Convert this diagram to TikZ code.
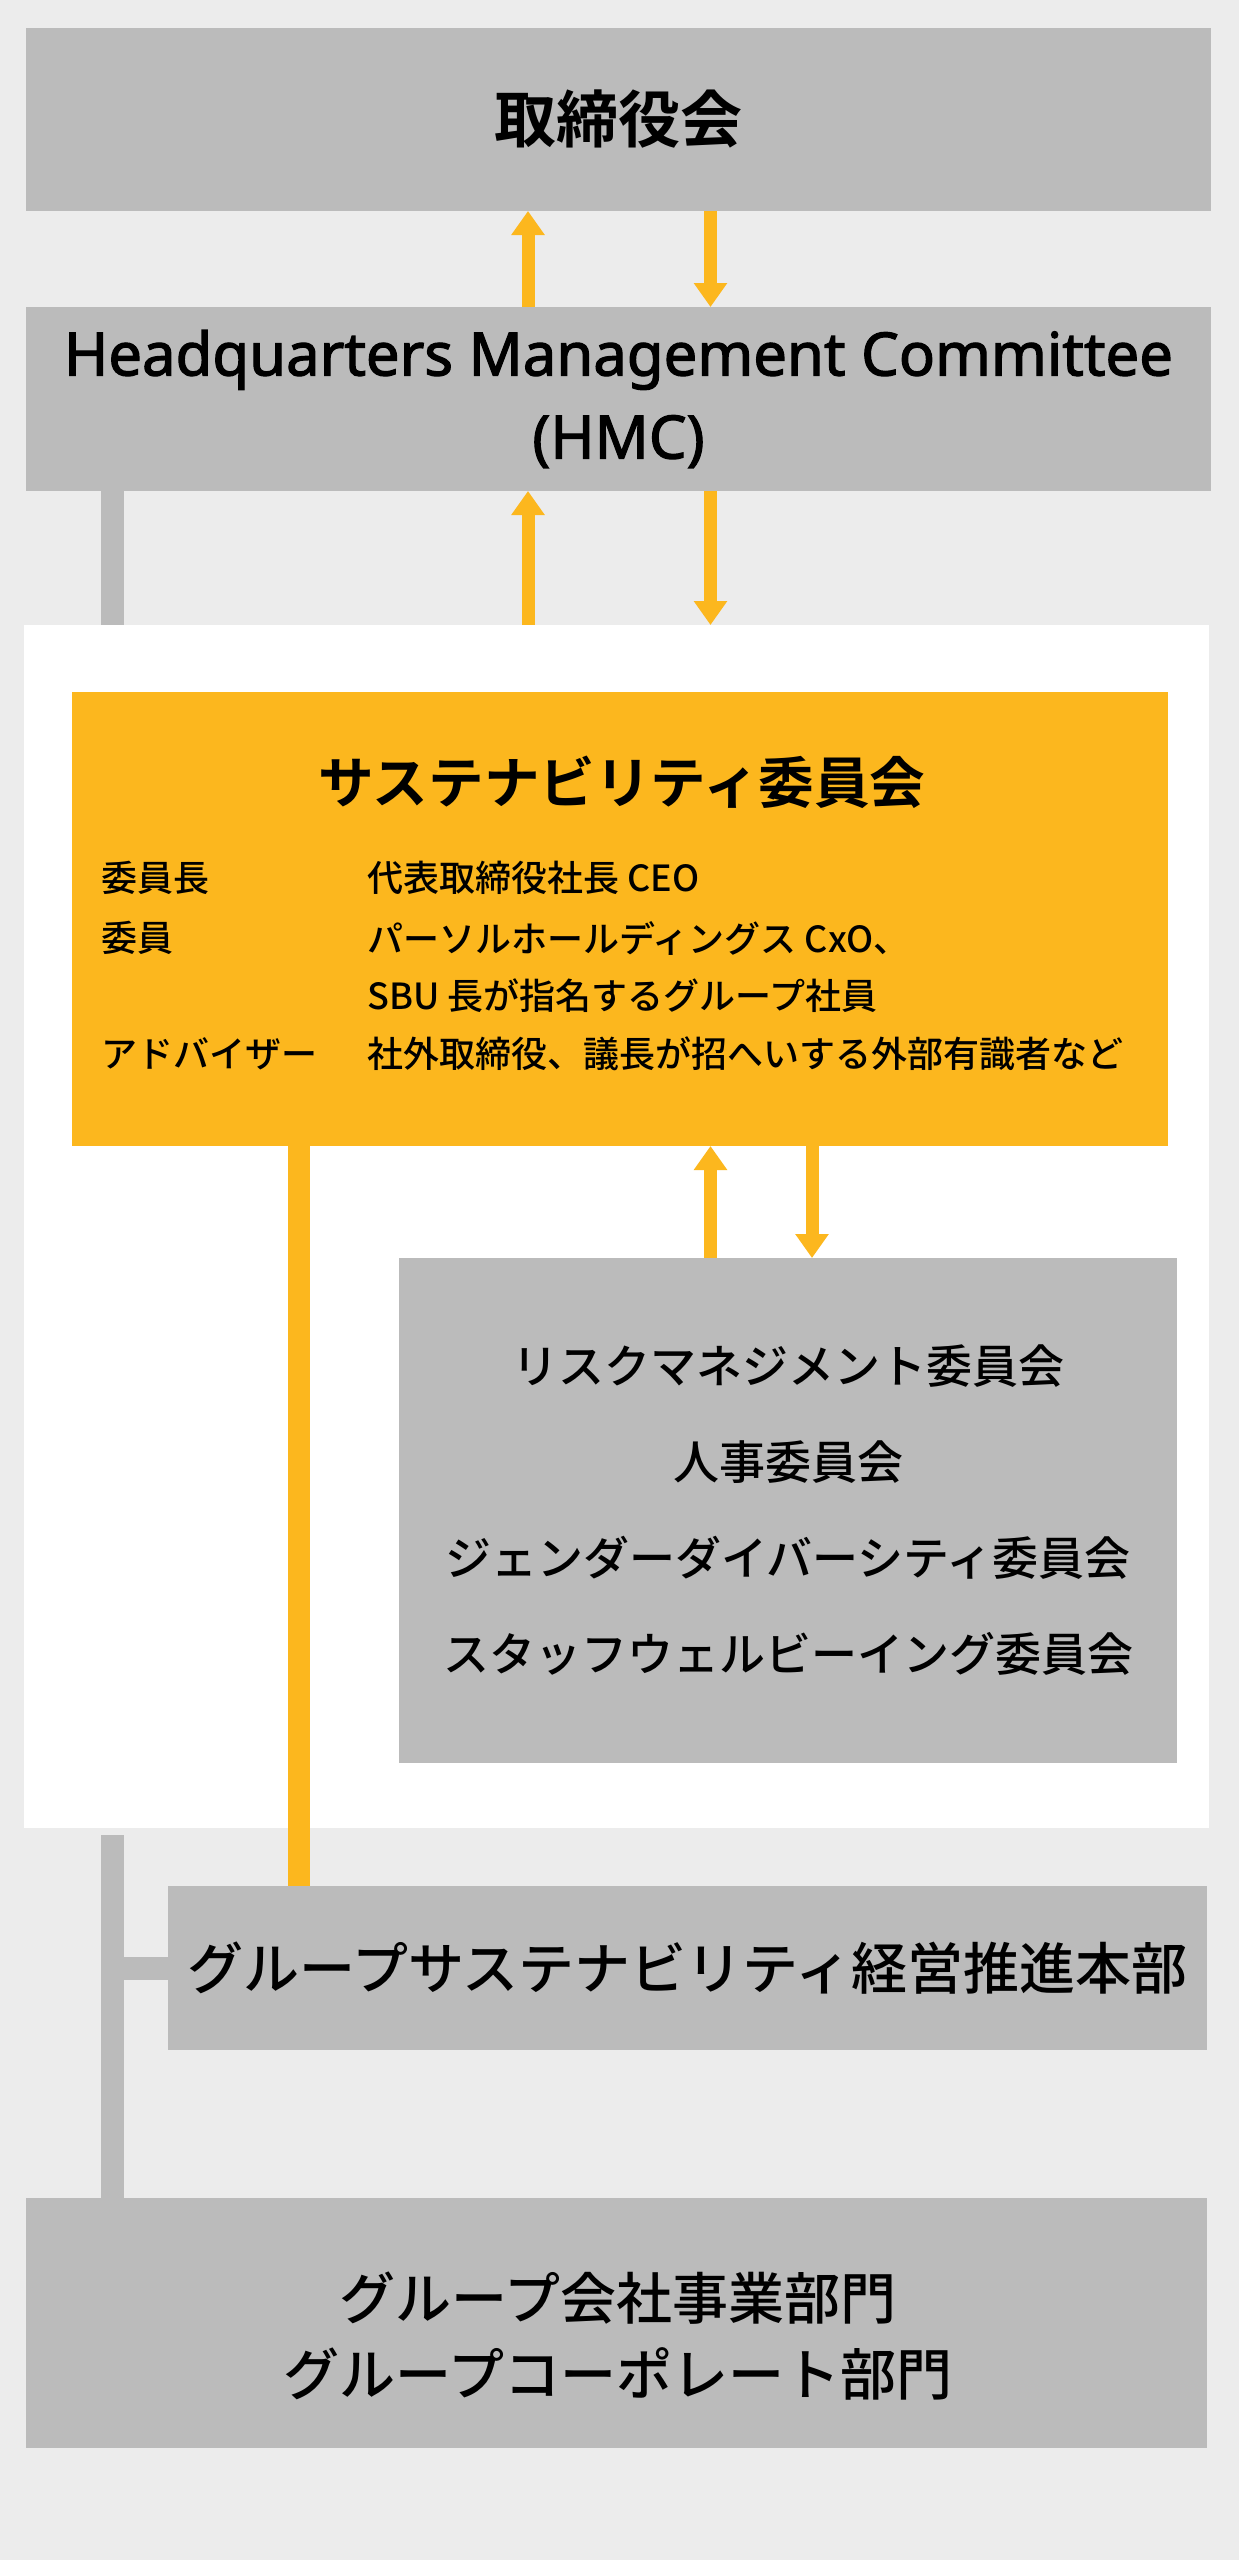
\documentclass[tikz,border=0pt]{standalone}
\usepackage{fontspec}
\setmainfont{Noto Sans CJK JP}[UprightFont=* Medium,BoldFont=* Bold]
\newfontfamily\hmcfont{Noto Sans}[FakeBold=2]
\usetikzlibrary{arrows.meta}
\definecolor{bgc}{RGB}{236,236,236}
\definecolor{boxc}{RGB}{187,187,187}
\definecolor{orc}{RGB}{252,183,30}
\tikzset{
  box/.style={fill=boxc,inner sep=0pt,outer sep=0pt,align=center},
  arr/.style={orc,line width=6.5pt,-{Triangle[width=16pt,length=12pt]}},
  gline/.style={boxc,line width=11.5pt},
  oline/.style={orc,line width=11pt},
  row/.style={anchor=west,inner sep=0pt,font=\fontsize{18pt}{22pt}\selectfont}
}
\begin{document}
\begin{tikzpicture}[x=0.5pt,y=-0.5pt]
  \fill[bgc] (0,0) rectangle (1239,2560);
  \useasboundingbox (0,0) rectangle (1239,2560);
  \coordinate (g) at (112,0); \coordinate (o) at (299,0);
  \coordinate (u) at (528,0); \coordinate (d) at (710.5,0); \coordinate (e) at (812,0);
  \node[box,minimum width=592.5pt,minimum height=91.5pt,font=\fontsize{31pt}{37pt}\selectfont\bfseries] (board) at (618.5,119.5) {取締役会};
  \node[box,minimum width=592.5pt,minimum height=92pt,font=\hmcfont\fontsize{29.9pt}{41.5pt}\selectfont] (hmc) at (618.5,399) {Headquarters Management Committee\\(HMC)};
  \node[fill=white,inner sep=0pt,outer sep=0pt,minimum width=592.5pt,minimum height=601.5pt] (panel) at (616.5,1226.5) {};
  \node[fill=orc,inner sep=0pt,outer sep=0pt,minimum width=548pt,minimum height=227pt] (sc) at (620,919) {};
  \node[font=\fontsize{27.8pt}{33pt}\selectfont\bfseries] (sct) at (622,782) {サステナビリティ委員会};
  \node[row] (l1) at (101,878) {委員長}; \node[row] (v1) at (367,878) {代表取締役社長 CEO};
  \node[row] (l2) at (101,938) {委員}; \node[row] (v2) at (367,938) {パーソルホールディングス CxO、};
  \node[row] (v3) at (367,996) {SBU 長が指名するグループ社員};
  \node[row] (l4) at (101,1054) {アドバイザー}; \node[row] (v4) at (367,1054) {社外取締役、議長が招へいする外部有識者など};
  \node[box,minimum width=389pt,minimum height=252.5pt,font=\fontsize{23pt}{48pt}\selectfont] (sub) at (788,1510.5) {リスクマネジメント委員会\\人事委員会\\ジェンダーダイバーシティ委員会\\スタッフウェルビーイング委員会};
  \node[box,minimum width=519.5pt,minimum height=82pt,font=\fontsize{28pt}{34pt}\selectfont] (gsp) at (687.5,1968) {グループサステナビリティ経営推進本部};
  \node[box,minimum width=590.5pt,minimum height=125pt] (bot) at (616.5,2323) {};
  \node[align=center,font=\fontsize{28pt}{38pt}\selectfont] (bott) at (618,2336) {グループ会社事業部門\\グループコーポレート部門};
  % arrows
  \draw[arr] (hmc.north -| u) -- (board.south -| u); \draw[arr] (board.south -| d) -- (hmc.north -| d);
  \draw[arr] (panel.north -| u) -- (hmc.south -| u); \draw[arr] (hmc.south -| d) -- (panel.north -| d);
  \draw[arr] (sub.north -| d) -- (sc.south -| d); \draw[arr] (sc.south -| e) -- (sub.north -| e);
  % lines
  \draw[gline] (hmc.south -| g) -- (panel.north -| g);
  \draw[gline,shorten <=3.5pt] (panel.south -| g) -- (bot.north -| g);
  \draw[gline] (g |- gsp.west) -- (gsp.west);
  \draw[oline] (sc.south -| o) -- (gsp.north -| o);
\end{tikzpicture}
\end{document}
